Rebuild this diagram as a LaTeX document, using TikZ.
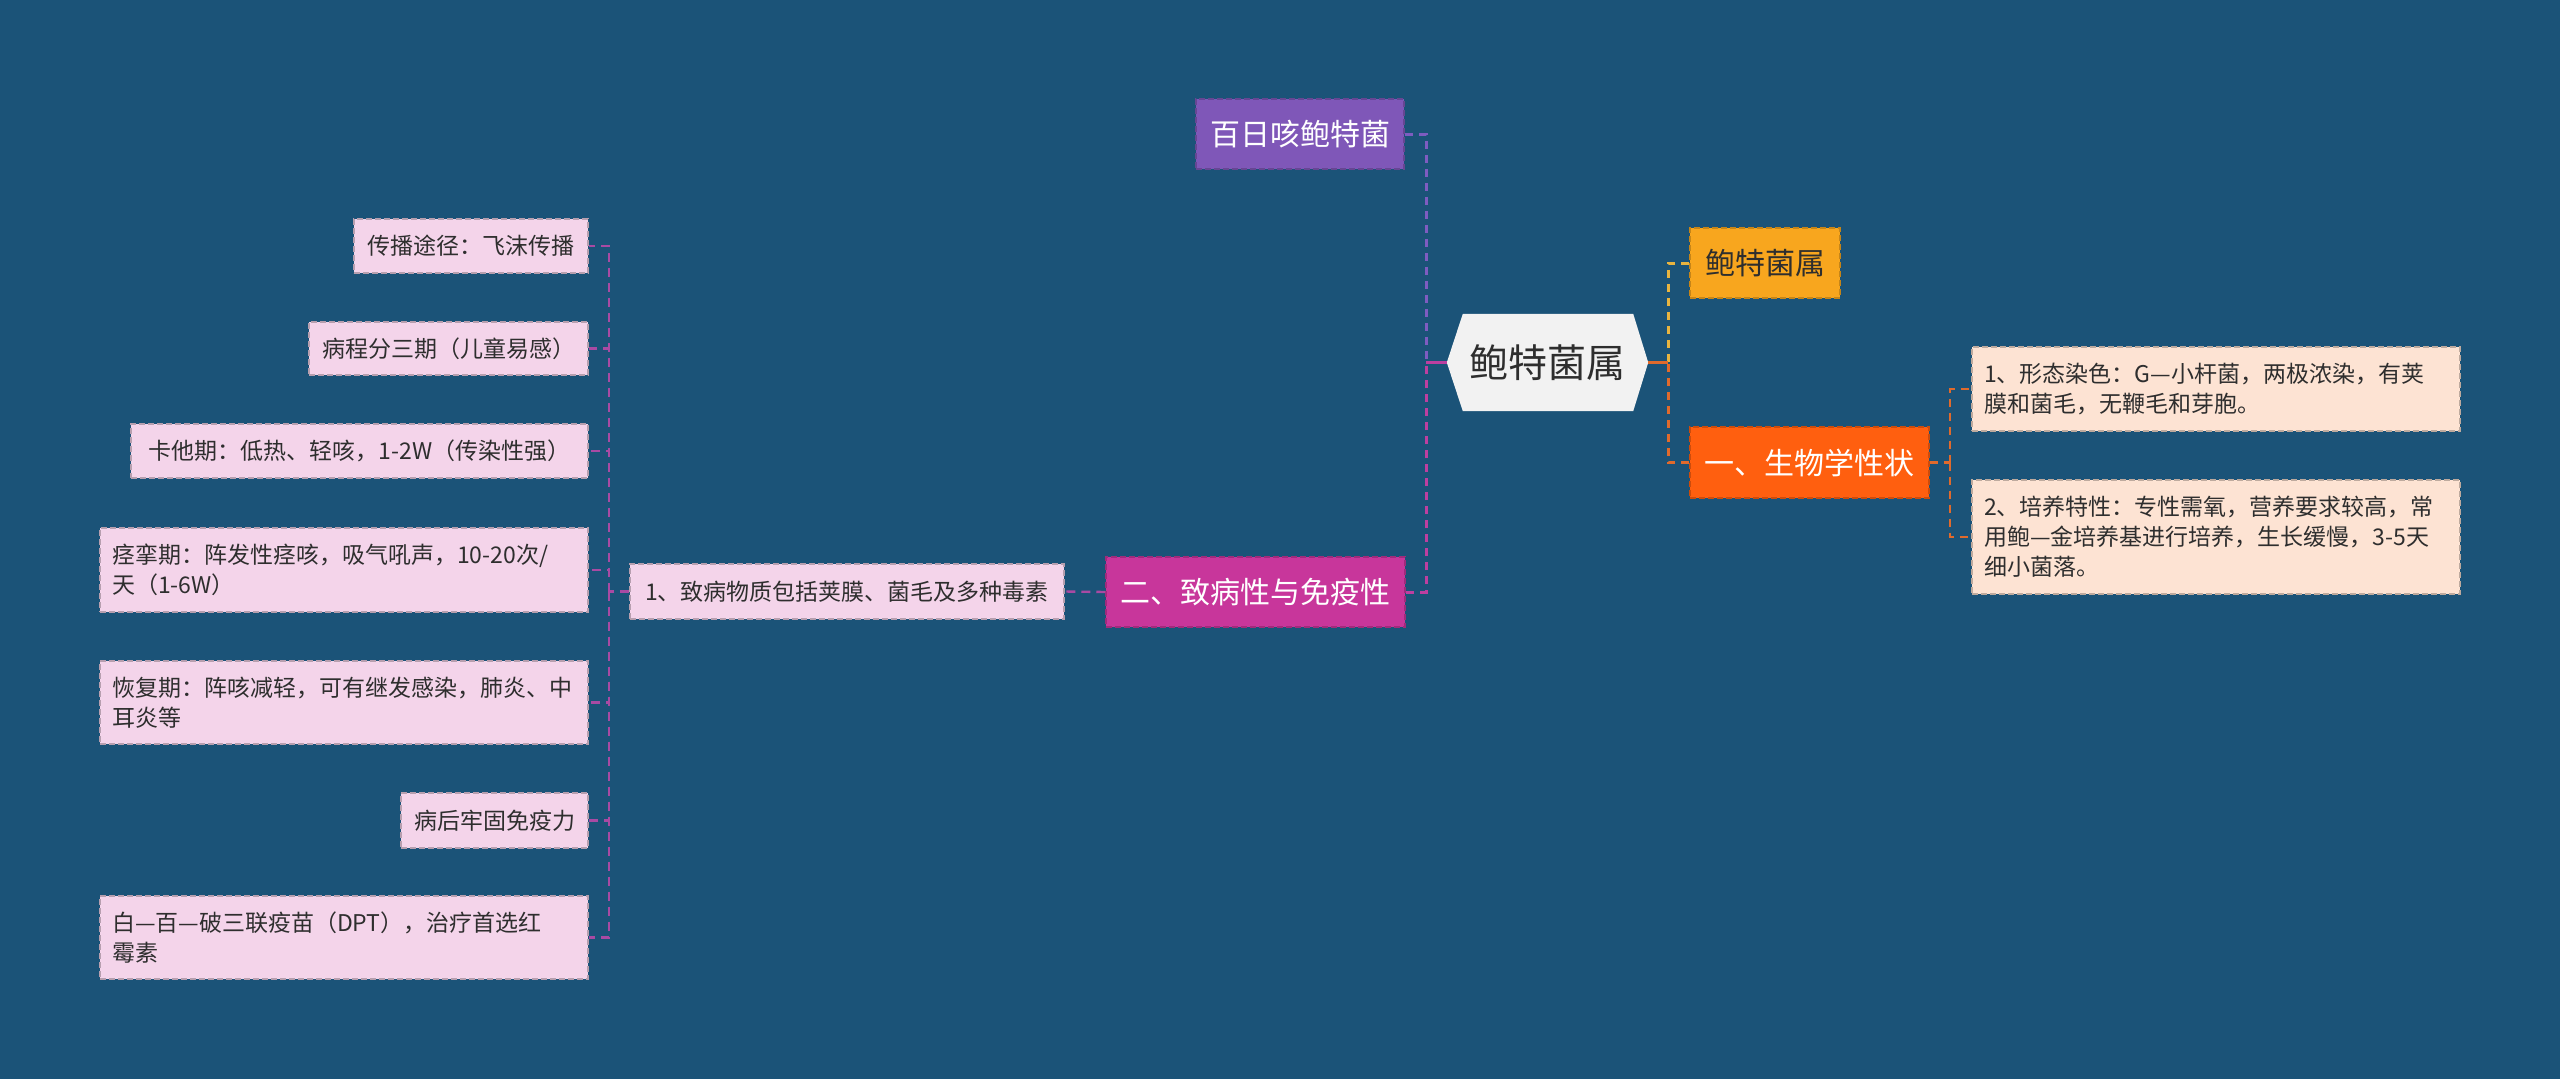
\documentclass[tikz,border=0pt]{standalone}
\usepackage{fontspec}
\usetikzlibrary{backgrounds}
\setmainfont{Noto Sans CJK SC}
\definecolor{bg}{HTML}{1B5378}
\definecolor{hexfill}{HTML}{F2F2F2}
\definecolor{purpN}{HTML}{7F57B8}
\definecolor{purpL}{HTML}{7E5CC0}
\definecolor{yelN}{HTML}{F8A61E}
\definecolor{yelL}{HTML}{E8B440}
\definecolor{orN}{HTML}{FF5F0F}
\definecolor{orL}{HTML}{E06A2C}
\definecolor{magN}{HTML}{C8369B}
\definecolor{magL}{HTML}{BD3FA0}
\definecolor{pinkF}{HTML}{F4D4EA}
\definecolor{peachF}{HTML}{FDE3D3}
\definecolor{leafL}{HTML}{A94AA3}
\definecolor{txt}{HTML}{2E2E2E}
\begin{document}
\begin{tikzpicture}[x=1pt,y=-1pt,
  boxbase/.style={inner sep=0pt, anchor=center, line width=1.5pt, dash pattern=on 6pt off 3pt},
  mainbox/.style={boxbase, font=\fontsize{30}{36}\selectfont},
  leafbox/.style={boxbase, draw=pinkF!75!black, fill=pinkF, text=txt, font=\fontsize{23}{30}\selectfont},
  peachbox/.style={boxbase, draw=peachF!75!black, fill=peachF, text=txt, font=\fontsize{23}{30}\selectfont},
  link/.style={line width=3pt, dash pattern=on 8pt off 6pt},
  leaflink/.style={line width=2.4pt, dash pattern=on 9pt off 6pt, draw=leafL},
  stub/.style={line width=3.4pt}
]
\useasboundingbox (0,0) rectangle (2560,1079);

% central node
\node[inner sep=0pt, minimum width=201pt, minimum height=97pt, text=txt,
      font=\fontsize{39}{44}\selectfont] (hex) at (1547.5,362.5) {鲍特菌属};
\begin{scope}[on background layer]
\fill[bg] (0,0) rectangle (2560,1079);
\fill[hexfill] (hex.west) -- ([xshift=16pt]hex.north west) -- ([xshift=-15pt]hex.north east)
  -- (hex.east) -- ([xshift=-15pt]hex.south east) -- ([xshift=16pt]hex.south west) -- cycle;
\end{scope}

% main branches
\node[mainbox, draw=purpN!80!black, fill=purpN, text=white, minimum width=208pt, minimum height=70pt] (bai) at (1300,134) {百日咳鲍特菌};
\node[mainbox, draw=yelN!80!black, fill=yelN, text=txt, minimum width=150pt, minimum height=70pt] (gen) at (1765,263) {鲍特菌属};
\node[mainbox, draw=orN!80!black, fill=orN, text=white, minimum width=239pt, minimum height=71pt] (bio) at (1809.5,462.5) {一、生物学性状};
\node[mainbox, draw=magN!80!black, fill=magN, text=white, minimum width=299pt, minimum height=70pt] (pat) at (1255.5,592) {二、致病性与免疫性};

% right children
\node[peachbox, minimum width=488pt, minimum height=84pt, text width=464pt, align=left] (r1) at (2216,389)
  {1、形态染色：G—小杆菌，两极浓染，有荚\\膜和菌毛，无鞭毛和芽胞。};
\node[peachbox, minimum width=488pt, minimum height=114pt, text width=464pt, align=left] (r2) at (2216,537)
  {2、培养特性：专性需氧，营养要求较高，常\\用鲍—金培养基进行培养，生长缓慢，3-5天\\细小菌落。};

% left children
\node[leafbox, minimum width=434pt, minimum height=55pt] (m1) at (847,591.5) {1、致病物质包括荚膜、菌毛及多种毒素};
\node[leafbox, minimum width=234pt, minimum height=54pt] (l1) at (471,246) {传播途径：飞沫传播};
\node[leafbox, minimum width=279pt, minimum height=53pt] (l2) at (448.5,348.5) {病程分三期（儿童易感）};
\node[leafbox, minimum width=457pt, minimum height=54pt] (l3) at (359.5,451) {卡他期：低热、轻咳，1-2W（传染性强）};
\node[leafbox, minimum width=488pt, minimum height=84pt, text width=464pt, align=left] (l4) at (344,570)
  {痉挛期：阵发性痉咳，吸气吼声，10-20次/\\天（1-6W）};
\node[leafbox, minimum width=488pt, minimum height=83pt, text width=464pt, align=left] (l5) at (344,702.5)
  {恢复期：阵咳减轻，可有继发感染，肺炎、中\\耳炎等};
\node[leafbox, minimum width=187pt, minimum height=55pt] (l6) at (494.5,820.5) {病后牢固免疫力};
\node[leafbox, minimum width=488pt, minimum height=83pt, text width=464pt, align=left] (l7) at (344,937.5)
  {白—百—破三联疫苗（DPT），治疗首选红\\霉素};

% junctions
\coordinate (jl) at (1426,362.5);
\coordinate (jr) at (1668,362.5);
\coordinate (jr2) at (1950,462.5);
\coordinate (jl2) at (609,591.5);

% central connectors
\draw[link, draw=purpL] (bai.east) -| (jl);
\draw[link, draw=magL] (pat.east) -| (jl);
\draw[stub, draw=magL] (jl) -- (hex.west);
\draw[link, draw=yelL] (gen.west) -| (jr);
\draw[link, draw=orL] (bio.west) -| (jr);
\draw[stub, draw=orL] (hex.east) -- (jr);

% right sub-connectors
\draw[link, line width=2.4pt, draw=orL] (bio.east) -- (jr2);
\draw[link, line width=2.4pt, draw=orL] (jr2) |- (r1.west);
\draw[link, line width=2.4pt, draw=orL] (jr2) |- (r2.west);

% left sub-connectors
\draw[leaflink] (pat.west) -- (m1.east);
\draw[leaflink] (m1.west) -- (jl2);
\foreach \n in {l1,l2,l3,l4,l5,l6,l7} {
  \draw[leaflink] (jl2) |- (\n.east);
}
\end{tikzpicture}
\end{document}
